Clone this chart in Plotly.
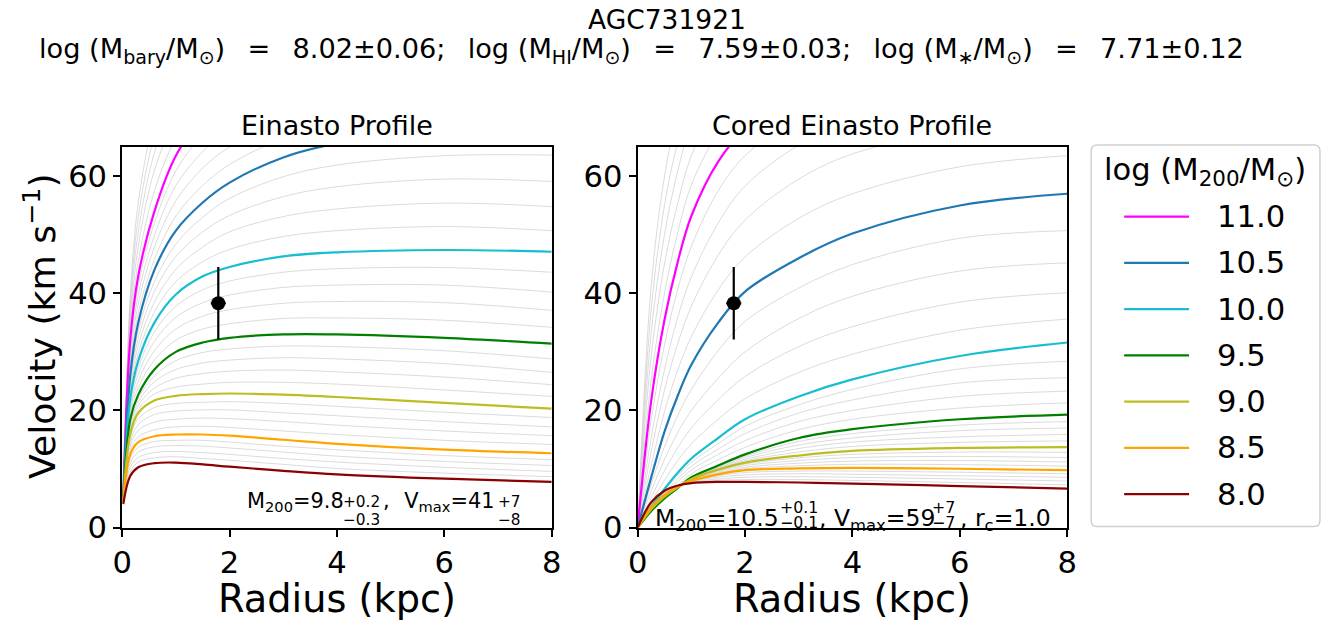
import plotly.graph_objects as go

# ---------------- data ----------------
R_EIN = [0.02, 0.15, 0.3, 0.6, 1, 1.5, 2, 3, 4, 6, 8]
R_COR = [0, 0.25, 0.5, 0.75, 1, 1.5, 2, 3, 4, 6, 8]

MAIN_LOGM = ["11.0", "10.5", "10.0", "9.5", "9.0", "8.5", "8.0"]
MAIN_COLORS = ["#ff00ff", "#1f77b4", "#17becf", "#008000", "#bcbd22", "#ffa500", "#8b0000"]

# Einasto profile, highlighted masses (same order as MAIN_LOGM)
EIN_MAIN = [
    [5.2, 32.0, 43.0, 54.0, 63.5, 70.0, 74.0, 79.0, 82.0, 85.0, 86.0],
    [5.0, 26.0, 35.0, 44.0, 50.7, 55.5, 58.9, 63.2, 65.6, 68.0, 68.5],
    [4.8, 22.0, 28.5, 35.0, 39.8, 42.9, 44.5, 46.3, 47.0, 47.4, 47.1],
    [4.6, 18.5, 22.7, 27.0, 30.0, 31.6, 32.4, 33.0, 33.0, 32.4, 31.4],
    [4.4, 16.0, 19.6, 21.7, 22.5, 22.8, 22.9, 22.7, 22.3, 21.3, 20.3],
    [4.2, 12.5, 14.6, 15.6, 15.9, 15.9, 15.7, 15.0, 14.3, 13.3, 12.7],
    [4.0, 8.8, 10.3, 11.0, 11.1, 10.8, 10.4, 9.7, 9.1, 8.35, 7.8],
]

# Einasto profile, thin grey grid of masses (log M200 = 8.1 ... 11.5)
EIN_GRID = [
    [4.0, 9.5, 11.2, 11.9, 12.1, 11.8, 11.5, 10.8, 10.1, 9.3, 8.7],
    [4.1, 10.3, 12.0, 12.8, 13.0, 12.8, 12.5, 11.8, 11.2, 10.3, 9.6],
    [4.1, 11.0, 12.9, 13.8, 14.0, 13.9, 13.6, 12.9, 12.2, 11.3, 10.6],
    [4.2, 11.8, 13.7, 14.7, 14.9, 14.9, 14.6, 13.9, 13.3, 12.3, 11.6],
    [4.2, 13.1, 15.5, 16.7, 17.2, 17.3, 17.1, 16.5, 15.9, 14.9, 14.2],
    [4.3, 13.9, 16.6, 18.0, 18.5, 18.7, 18.6, 18.1, 17.5, 16.5, 15.7],
    [4.3, 14.6, 17.6, 19.3, 19.9, 20.1, 20.1, 19.6, 19.1, 18.1, 17.2],
    [4.4, 15.3, 18.6, 20.5, 21.2, 21.4, 21.5, 21.2, 20.7, 19.7, 18.8],
    [4.4, 16.5, 20.2, 22.8, 24.0, 24.5, 24.8, 24.8, 24.5, 23.5, 22.4],
    [4.5, 17.0, 20.9, 23.8, 25.5, 26.3, 26.7, 26.9, 26.6, 25.7, 24.4],
    [4.5, 17.5, 21.5, 24.9, 27.0, 28.1, 28.6, 29.0, 28.8, 28.0, 26.5],
    [4.6, 18.0, 22.1, 25.9, 28.5, 29.9, 30.5, 31.0, 30.9, 30.2, 28.8],
    [4.6, 19.2, 23.9, 28.6, 32.0, 33.9, 34.8, 35.7, 35.8, 35.4, 34.2],
    [4.7, 19.9, 25.0, 30.2, 33.9, 36.1, 37.2, 38.3, 38.6, 38.4, 37.1],
    [4.7, 20.6, 26.2, 31.8, 35.9, 38.4, 39.7, 41.0, 41.4, 41.4, 40.2],
    [4.8, 21.3, 27.3, 33.4, 37.8, 40.6, 42.1, 43.6, 44.2, 44.4, 43.6],
    [4.8, 22.8, 29.8, 36.8, 42.0, 45.4, 47.5, 49.7, 50.7, 51.4, 50.7],
    [4.9, 23.6, 31.1, 38.5, 44.1, 47.9, 50.5, 53.1, 54.4, 55.4, 54.8],
    [4.9, 24.4, 32.4, 40.3, 46.3, 50.5, 53.3, 56.5, 58.2, 59.5, 59.1],
    [5.0, 25.2, 33.7, 42.0, 48.4, 53.0, 56.2, 59.9, 61.9, 63.5, 63.6],
    [5.0, 27.2, 36.6, 45.8, 53.2, 58.4, 62.0, 66.4, 68.9, 71.0, 71.6],
    [5.1, 28.4, 38.2, 47.9, 55.8, 61.4, 65.0, 69.5, 72.2, 74.5, 75.2],
    [5.1, 29.6, 39.8, 49.9, 58.4, 64.2, 68.0, 72.6, 75.4, 78.0, 78.8],
    [5.2, 30.8, 41.4, 52.0, 60.9, 67.1, 71.1, 75.8, 78.7, 81.5, 82.4],
    [5.3, 33.5, 45.5, 57.5, 66.5, 73.0, 77.0, 82.0, 85.0, 88.0, 89.0],
    [5.3, 35.0, 48.0, 61.0, 70.0, 77.0, 81.0, 86.0, 89.0, 92.0, 93.0],
    [5.4, 36.5, 50.5, 64.0, 73.5, 80.0, 85.0, 90.0, 93.0, 96.0, 97.0],
    [5.4, 38.0, 53.0, 67.0, 77.0, 84.0, 89.0, 94.0, 97.0, 100.0, 101.0],
    [5.5, 39.5, 55.5, 70.0, 80.5, 88.0, 93.0, 98.0, 101.0, 104.0, 105.0],
]

# Cored Einasto profile, highlighted masses (same order as MAIN_LOGM)
COR_MAIN = [
    [0, 21.5, 35.5, 45.5, 53.2, 62.5, 68.0, 74.0, 78.0, 82.0, 84.0],
    [0, 8.5, 16.4, 22.6, 27.8, 35.0, 40.3, 46.0, 50.2, 55.0, 57.0],
    [0, 3.5, 6.6, 9.4, 11.8, 15.3, 18.5, 22.4, 25.3, 29.3, 31.6],
    [0, 2.8, 5.0, 6.8, 8.6, 10.6, 12.5, 15.3, 16.8, 18.5, 19.3],
    [0, 3.1, 5.3, 6.9, 8.3, 9.9, 11.1, 12.3, 13.1, 13.6, 13.75],
    [0, 3.5, 5.6, 7.0, 8.0, 9.1, 9.8, 10.1, 10.2, 10.05, 9.8],
    [0, 4.3, 6.3, 7.2, 7.6, 7.8, 7.8, 7.7, 7.5, 7.1, 6.65],
]

# Cored Einasto profile, thin grey grid of masses (log M200 = 8.1 ... 11.5)
COR_GRID = [
    [0, 4.15, 6.15, 7.15, 7.7, 8.05, 8.2, 8.2, 8.05, 7.7, 7.3],
    [0, 4.0, 6.0, 7.1, 7.75, 8.3, 8.6, 8.7, 8.6, 8.3, 7.95],
    [0, 3.8, 5.85, 7.05, 7.85, 8.6, 9.0, 9.2, 9.1, 8.85, 8.6],
    [0, 3.65, 5.7, 7.0, 7.9, 8.85, 9.4, 9.65, 9.65, 9.45, 9.2],
    [0, 3.4, 5.55, 7.0, 8.05, 9.25, 10.05, 10.55, 10.8, 10.75, 10.5],
    [0, 3.35, 5.5, 6.95, 8.1, 9.4, 10.3, 11.0, 11.35, 11.45, 11.2],
    [0, 3.25, 5.4, 6.95, 8.2, 9.6, 10.6, 11.45, 11.95, 12.15, 11.95],
    [0, 3.2, 5.35, 6.9, 8.25, 9.75, 10.85, 11.9, 12.5, 12.9, 12.85],
    [0, 3.05, 5.25, 6.9, 8.35, 10.05, 11.4, 12.9, 13.85, 14.55, 14.8],
    [0, 3.0, 5.2, 6.85, 8.4, 10.2, 11.65, 13.5, 14.6, 15.5, 15.9],
    [0, 2.9, 5.1, 6.85, 8.5, 10.3, 11.95, 14.1, 15.3, 16.55, 17.0],
    [0, 2.85, 5.05, 6.8, 8.55, 10.45, 12.2, 14.7, 16.05, 17.5, 18.1],
    [0, 2.95, 5.3, 7.3, 9.2, 11.55, 13.7, 16.7, 18.5, 20.4, 21.3],
    [0, 3.1, 5.65, 7.85, 9.85, 12.5, 14.85, 18.1, 20.0, 22.4, 23.3],
    [0, 3.25, 5.95, 8.35, 10.5, 13.4, 16.05, 19.55, 21.8, 24.7, 25.6],
    [0, 3.35, 6.3, 8.9, 11.15, 14.35, 17.3, 20.95, 23.6, 27.1, 28.4],
    [0, 4.3, 8.1, 11.5, 14.3, 18.5, 22.0, 26.5, 29.6, 33.7, 35.6],
    [0, 5.1, 9.7, 13.7, 17.0, 21.8, 25.8, 30.9, 34.3, 38.5, 40.1],
    [0, 6.2, 11.6, 16.3, 20.0, 25.5, 30.0, 35.7, 39.5, 43.8, 45.2],
    [0, 7.3, 13.8, 19.2, 23.6, 30.2, 35.2, 40.9, 44.9, 49.4, 50.7],
    [0, 10.5, 19.8, 27.0, 32.6, 40.6, 46.2, 52.8, 57.0, 61.6, 63.5],
    [0, 12.8, 23.5, 31.5, 37.8, 46.5, 52.5, 59.5, 63.8, 68.0, 70.0],
    [0, 15.2, 27.0, 36.0, 42.8, 52.0, 58.3, 65.3, 69.5, 73.5, 75.5],
    [0, 18.2, 31.2, 40.8, 48.0, 57.5, 63.5, 70.0, 74.0, 78.0, 80.0],
    [0, 25.0, 40.0, 50.5, 58.5, 67.5, 73.0, 79.0, 83.0, 87.0, 89.0],
    [0, 29.0, 45.0, 55.5, 63.5, 72.5, 78.0, 84.0, 88.0, 92.0, 94.0],
    [0, 33.0, 50.0, 61.0, 69.0, 78.0, 83.0, 89.0, 93.0, 97.0, 99.0],
    [0, 37.0, 55.0, 66.0, 74.0, 83.0, 88.0, 94.0, 98.0, 102.0, 104.0],
    [0, 41.0, 60.0, 71.0, 79.0, 88.0, 93.0, 99.0, 103.0, 107.0, 109.0],
]

OBS_R = [1.79]
OBS_V = [38.3]
OBS_VERR = [6.2]
OBS_RERR = [0.14]

X_TICKS = [0, 2, 4, 6, 8]
Y_TICKS = [0, 20, 40, 60]

TITLE_1 = "AGC731921"
SP = " \u2002"
TITLE_2 = (f"log (M<sub>bary</sub>/M<sub>⊙</sub>){SP}={SP}8.02±0.06;{SP}"
           f"log (M<sub>HI</sub>/M<sub>⊙</sub>){SP}={SP}7.59±0.03;{SP}"
           f"log (M<sub>∗</sub>/M<sub>⊙</sub>){SP}={SP}7.71±0.12")
PANEL_TITLES = ["Einasto Profile", "Cored Einasto Profile"]
LEGEND_TITLE = "log (M<sub>200</sub>/M<sub>⊙</sub>)"

# fit summary pieces: (main text, sup, sub) per panel
FIT_LEFT = [("M<sub>200</sub>=9.8", "+0.2", "−0.3"), (",\u2002\u2009V<sub>max</sub>=41", "+7", "−8")]
FIT_RIGHT = [("M<sub>200</sub>=10.5", "+0.1", "−0.1"), (", V<sub>max</sub>=59", "+7", "−7"),
             (", r<sub>c</sub>=1.0", None, None)]

# ---------------- figure geometry ----------------
FIG_W, FIG_H = 1332, 627
# the photographed page maps figure pixels as: x' = 8.7 + 0.986 x, y' = 0.972 y
SX, OX, SY = 0.986, 8.7, 0.972
FONT = "DejaVu Sans"


def px(x):
    return ((x - OX) / SX) / FIG_W


def py(y):
    return 1 - (y / SY) / FIG_H


def fs(s):
    return round(s / 0.98, 1)


fig = go.Figure()

panels = [("x", "y", R_EIN, EIN_GRID, EIN_MAIN), ("x2", "y2", R_COR, COR_GRID, COR_MAIN)]
for xa, ya, rr, grid, main in panels:
    for v in grid:
        fig.add_trace(go.Scatter(x=rr, y=v, xaxis=xa, yaxis=ya, mode="lines",
                                 line=dict(color="rgba(195,195,195,0.6)", width=1, shape="spline", smoothing=1.0),
                                 showlegend=False, hoverinfo="skip"))
    for v, c, lab in zip(main, MAIN_COLORS, MAIN_LOGM):
        fig.add_trace(go.Scatter(x=rr, y=v, xaxis=xa, yaxis=ya, mode="lines", name=lab,
                                 line=dict(color=c, width=2.2, shape="spline", smoothing=1.0),
                                 showlegend=False))
    fig.add_trace(go.Scatter(x=OBS_R, y=OBS_V, xaxis=xa, yaxis=ya, mode="markers",
                             marker=dict(color="black", size=14),
                             error_y=dict(type="data", array=OBS_VERR, color="black", thickness=2.2, width=0),
                             error_x=dict(type="data", array=OBS_RERR, color="black", thickness=2.2, width=0),
                             showlegend=False))

tickfont = dict(size=fs(30), color="black", family=FONT)
axis_common = dict(range=[0, 8], tickvals=X_TICKS, ticks="outside", ticklen=7, tickwidth=2,
                   tickcolor="black", showline=True, linecolor="black", linewidth=2, mirror=True,
                   showgrid=False, zeroline=False, tickfont=tickfont)
yaxis_common = dict(range=[0, 65], tickvals=Y_TICKS, ticks="outside", ticklen=7, tickwidth=2,
                    tickcolor="black", showline=True, linecolor="black", linewidth=2, mirror=True,
                    showgrid=False, zeroline=False, tickfont=tickfont)

L1, R1 = 121, 551
L2, R2 = 637, 1067
TOP, BOT = 147, 528

fig.update_layout(
    width=FIG_W, height=FIG_H, margin=dict(l=0, r=0, t=0, b=0),
    paper_bgcolor="white", plot_bgcolor="white",
    font=dict(family=FONT, color="black"),
    xaxis=dict(domain=[px(L1), px(R1)], anchor="y", **axis_common),
    yaxis=dict(domain=[py(BOT), py(TOP)], anchor="x", **yaxis_common),
    xaxis2=dict(domain=[px(L2), px(R2)], anchor="y2", **axis_common),
    yaxis2=dict(domain=[py(BOT), py(TOP)], anchor="x2", **yaxis_common),
    showlegend=False,
)

ann = []


def text(t, x, y, size, xa="center", ya="middle", angle=0):
    ann.append(dict(text=t, x=px(x), y=py(y), xref="paper", yref="paper", showarrow=False,
                    font=dict(size=fs(size), family=FONT, color="black"), xanchor=xa, yanchor=ya,
                    textangle=angle, borderpad=0))


text(TITLE_1, 666, 20, 26)
text(TITLE_2, 641, 51, 26.7)
for t, cx in zip(PANEL_TITLES, [(L1 + R1) / 2, (L2 + R2) / 2]):
    text(t, cx, 126, 26.5)
    text("Radius (kpc)", cx, 599, 37.5)
text("Velocity (km s<sup>−1</sup>)", 38, 326, 35.5, angle=-90)

# fit summaries with stacked super/subscripts
for (main, sup, sub), (xm, xs) in zip(FIT_LEFT, [(245, 341), (381, 496)]):
    text(main, xm, 502, 20.5, xa="left")
    text(sup, xs, 502, 15, xa="left")
    text(sub, xs, 520, 15, xa="left")
for (main, sup, sub), (xm, xs) in zip(FIT_RIGHT, [(653, 778), (818, 931), (959, None)]):
    text(main, xm, 520, 23, xa="left")
    if sup is not None:
        text(sup, xs, 508, 15.5, xa="left")
        text(sub, xs, 523, 15.5, xa="left")

# custom legend box
shapes = []
lx0, lx1, ly0, ly1, rad = 1091, 1320, 145, 527, 6
path = (f"M {px(lx0 + rad)},{py(ly0)} L {px(lx1 - rad)},{py(ly0)} Q {px(lx1)},{py(ly0)} {px(lx1)},{py(ly0 + rad)} "
        f"L {px(lx1)},{py(ly1 - rad)} Q {px(lx1)},{py(ly1)} {px(lx1 - rad)},{py(ly1)} "
        f"L {px(lx0 + rad)},{py(ly1)} Q {px(lx0)},{py(ly1)} {px(lx0)},{py(ly1 - rad)} "
        f"L {px(lx0)},{py(ly0 + rad)} Q {px(lx0)},{py(ly0)} {px(lx0 + rad)},{py(ly0)} Z")
shapes.append(dict(type="path", path=path, xref="paper", yref="paper",
                   line=dict(color="#d0d0d0", width=1.5), fillcolor="white", layer="below"))
text(LEGEND_TITLE, 1205, 172, 30)
for i, (lab, c) in enumerate(zip(MAIN_LOGM, MAIN_COLORS)):
    yc = 216.7 + i * 46.3
    shapes.append(dict(type="line", x0=px(1124), x1=px(1189), y0=py(yc), y1=py(yc),
                       xref="paper", yref="paper", line=dict(color=c, width=2.2)))
    text(lab, 1216, yc, 30, xa="left")

fig.update_layout(annotations=ann, shapes=shapes)
fig.write_html("out.html")
